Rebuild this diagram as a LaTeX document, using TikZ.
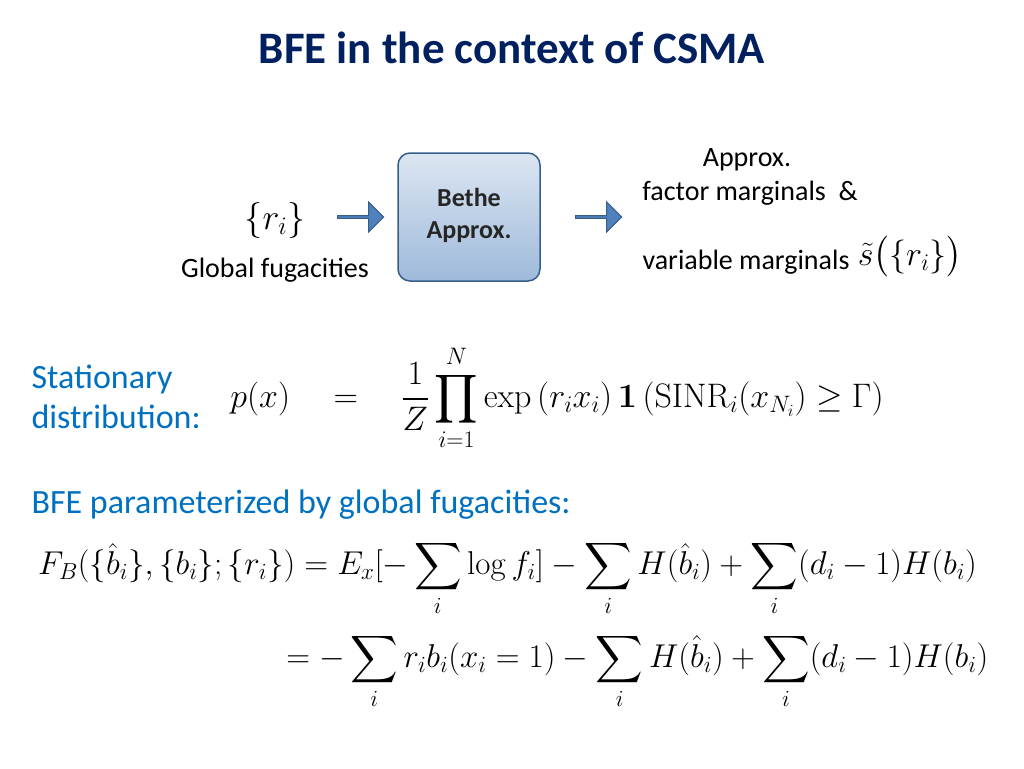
\RequirePackage{fix-cm}
\documentclass[tikz,border=0pt]{standalone}
\usepackage{amsmath,amssymb}
\usepackage[no-math]{fontspec}
\setmainfont{Carlito}
\usetikzlibrary{shapes.arrows}
\definecolor{titleblue}{RGB}{0,32,96}
\definecolor{txtblue}{RGB}{0,112,192}
\definecolor{arrblue}{RGB}{79,129,189}
\definecolor{arredge}{RGB}{56,93,138}
\begin{document}
\begin{tikzpicture}[x=1pt,y=-1pt,
  blockarrow/.style={single arrow, draw=arredge, fill=arrblue, minimum height=46pt, minimum width=30pt, single arrow head extend=5pt, inner sep=0pt, line width=1pt},
  bluetxt/.style={text=txtblue, font=\fontsize{34}{40}\selectfont, align=left, anchor=west},
  plain/.style={font=\fontsize{28}{34}\selectfont}]
\useasboundingbox (0,0) rectangle (1024,768);
\node (title) at (512,48) {\fontsize{45}{52}\selectfont\bfseries\color{titleblue}BFE in the context of CSMA};
\node (ri) at (275,220) {\fontsize{36}{42}\selectfont$\{r_i\}$};
\node[plain] (gf) at (275,270) {Global fugacities};
\node[blockarrow] (a1) at (360,217) {};
\node[rounded corners=12pt, draw=arredge, line width=1.5pt, top color=arrblue!20, bottom color=arrblue!55, minimum width=142pt, minimum height=128pt] (box) at (469,217) {};
\node[font=\fontsize{26}{32}\selectfont\bfseries, align=center, text=black!85] (bt) at (469,215) {Bethe\\Approx.};
\node[blockarrow] (a2) at (598,217) {};
\node[plain] (ap) at (747,160) {Approx.};
\node[plain] (fm) at (750,193) {factor marginals\ \ \&};
\node[plain] (vm) at (746,262) {variable marginals};
\node (st) at (910,257) {\fontsize{34}{40}\selectfont$\tilde{s}\bigl(\{r_i\}\bigr)$};
\node[bluetxt] (sd) at (28,397) {Stationary\\distribution:};
\node (peq) at (557,398) {\fontsize{34}{40}\selectfont$\displaystyle p(x)\quad=\quad \frac{1}{Z}\prod_{i=1}^{N}\exp\left(r_ix_i\right)\mathbf{1}\left(\mathrm{SINR}_i(x_{N_i})\ge\Gamma\right)$};
\node[bluetxt] (bfe) at (28,505) {BFE parameterized by global fugacities:};
\node[anchor=north west, inner sep=0pt] (eq) at (38,540) {\fontsize{33}{40}\selectfont$\displaystyle
\begin{aligned}
F_B(\{\hat b_i\},\{b_i\};\{r_i\}) &= E_x[-\sum_i\log f_i]-\sum_i H(\hat b_i)+\sum_i(d_i-1)H(b_i)\\[12pt]
&\hspace{-18pt}= -\sum_i r_ib_i(x_i=1)-\sum_i H(\hat b_i)+\sum_i(d_i-1)H(b_i)
\end{aligned}$};
\end{tikzpicture}
\end{document}
